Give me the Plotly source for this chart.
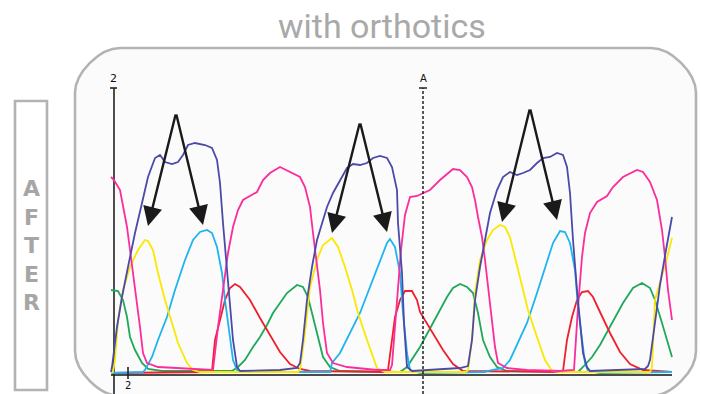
import plotly.graph_objects as go

# ---- data (scan position vs. signal intensity) ----
green_x = [0,7,12,16,19,24,31,37,51,121,127,134,142,149,156,162,169,176,186,192,197,202,207,212,219,229,289,296,309,319,329,336,342,349,356,362,367,372,379,386,396,467,472,481,489,499,506,512,522,531,539,544,551,556,561]
green_y = [85,84,75,58,38,25,12,6,4,4,8,15,28,38,50,62,72,82,90,88,78,58,35,18,8,4,3,8,28,47,65,78,87,91,88,82,62,35,18,8,4,3,8,18,30,48,60,72,87,92,87,75,52,35,18]

red_x = [0,99,101,104,109,114,119,124,129,134,139,149,159,169,179,189,199,275,277,281,284,289,294,301,306,309,314,322,332,342,352,450,452,456,461,466,471,477,482,489,499,509,519,532,561]
red_y = [2,3,4,35,55,75,87,91,88,82,75,57,40,23,11,6,4,3,5,35,58,75,84,84,75,63,55,42,25,11,4,3,4,35,58,75,83,84,78,63,42,23,11,5,3]

cyan_x = [0,32,34,41,47,56,64,74,82,89,96,101,106,111,114,118,122,126,134,219,221,229,239,249,259,269,276,279,284,289,292,296,299,309,374,376,392,399,407,416,426,434,442,449,454,459,464,467,471,474,477,489,561]
cyan_y = [2,3,5,18,35,58,85,115,135,143,145,142,128,102,75,42,15,5,3,3,12,22,42,62,88,115,132,136,128,102,62,22,5,2,3,4,7,15,32,52,82,108,132,144,143,132,105,68,35,12,4,2,3]

yellow_x = [0,2,4,7,12,19,27,34,37,42,47,54,61,67,76,82,89,187,189,194,199,206,212,221,227,234,241,247,256,266,274,355,357,361,364,369,376,382,389,394,399,404,411,417,426,434,441,449,539,541,544,551,556,561]
yellow_y = [2,3,15,55,85,108,125,135,134,125,102,75,52,32,12,5,3,3,5,42,88,115,130,137,128,108,85,62,35,7,3,3,5,35,82,115,135,145,150,148,138,118,92,65,38,15,4,3,3,8,75,98,117,137]

pink_x = [0,3,9,12,16,19,22,26,29,32,36,47,67,94,102,107,112,117,122,127,132,139,146,152,159,169,179,189,194,199,202,206,209,212,216,222,236,266,279,281,286,290,294,299,306,312,319,329,342,349,356,361,364,367,371,374,377,381,384,387,396,416,449,463,467,471,474,479,486,496,502,512,526,532,539,546,551,554,557,561]
pink_y = [198,195,185,168,148,125,102,75,48,22,12,8,7,5,5,48,85,122,148,165,175,179,183,195,202,208,203,198,188,168,142,108,85,52,22,12,8,5,5,10,75,125,160,178,179,182,185,195,206,205,198,188,175,158,138,115,88,58,28,12,7,5,4,5,68,118,142,162,173,179,188,198,205,203,193,175,145,118,85,55]

navy_x = [0,1,6,11,17,24,31,37,44,49,54,61,67,72,77,84,94,101,106,109,112,116,119,122,126,129,169,186,189,192,196,201,206,211,216,222,229,236,242,249,256,262,269,276,281,286,287,291,293,296,301,349,357,361,364,369,374,379,386,392,399,406,412,419,426,432,439,446,452,456,459,462,466,469,472,476,479,534,537,539,544,549,555,561]
navy_y = [3,8,48,78,108,142,172,198,217,220,213,211,213,220,230,232,230,227,215,192,152,108,75,35,8,4,5,7,12,35,75,108,135,152,168,182,195,207,211,210,212,217,219,217,208,185,152,102,52,8,4,7,9,35,75,108,135,162,185,198,203,200,202,205,212,217,218,222,220,208,182,135,85,52,22,8,4,6,9,15,55,90,125,158]

series = [
    ("G", green_x, green_y, "#1fa85a"),
    ("T", red_x, red_y, "#ef1f2d"),
    ("C", cyan_x, cyan_y, "#1db4ef"),
    ("A?", yellow_x, yellow_y, "#fbe800"),
    ("P", pink_x, pink_y, "#fb2c9c"),
    ("N", navy_x, navy_y, "#4a4aaa"),
]

# arrows: (apex_x, apex_y, tip_x, tip_y)
arrow_apex_x = [65, 65, 249, 249, 419, 419]
arrow_apex_y = [262, 262, 253, 253, 267, 267]
arrow_tip_x = [37, 92, 221, 276, 391, 446]
arrow_tip_y = [149, 150, 142, 143, 153, 155]

title_text = "with orthotics"
side_letters = ["A", "F", "T", "E", "R"]
marker_pos = 312          # dashed cursor position
y_axis_pos = 3
x_tick_pos = 17
y_top = 287

fig = go.Figure()

for name, xs, ys, col in series:
    fig.add_trace(go.Scatter(x=xs, y=ys, mode="lines", name=name,
                             line=dict(color=col, width=1.8), hoverinfo="skip"))

shapes = []
# rounded frame
L, R, T, B, r = -36, 585, 327, -21, 45
k = 0.45 * r
path = (f"M {L},{B+r} L {L},{T-r} C {L},{T-r+k} {L+r-k},{T} {L+r},{T} "
        f"L {R-r},{T} C {R-r+k},{T} {R},{T-r+k} {R},{T-r} "
        f"L {R},{B+r} C {R},{B+r-k} {R-r+k},{B} {R-r},{B} "
        f"L {L+r},{B} C {L+r-k},{B} {L},{B+r-k} {L},{B+r} Z")
shapes.append(dict(type="path", path=path, xref="x", yref="y", layer="below",
                   line=dict(color="#b3b3b3", width=2.6), fillcolor="#fbfbfb"))
# side box
shapes.append(dict(type="rect", x0=-96, x1=-64, y0=-15, y1=274, xref="x", yref="y",
                   layer="below", line=dict(color="#b3b3b3", width=2.6), fillcolor="white"))
# axes
shapes.append(dict(type="line", x0=0, x1=561, y0=0, y1=0, xref="x", yref="y",
                   layer="below", line=dict(color="#111111", width=1.7)))
shapes.append(dict(type="line", x0=y_axis_pos, x1=y_axis_pos, y0=-19, y1=y_top, xref="x", yref="y",
                   layer="below", line=dict(color="#222222", width=1.6)))
shapes.append(dict(type="line", x0=-1, x1=6, y0=y_top, y1=y_top, xref="x", yref="y",
                   layer="below", line=dict(color="#222222", width=1.6)))
shapes.append(dict(type="line", x0=x_tick_pos, x1=x_tick_pos, y0=-4, y1=8, xref="x", yref="y",
                   layer="above", line=dict(color="#222222", width=1.6)))
# cursor
shapes.append(dict(type="line", x0=marker_pos, x1=marker_pos, y0=-19, y1=y_top, xref="x", yref="y",
                   layer="above", line=dict(color="#222222", width=1.5, dash="3px,2px")))
shapes.append(dict(type="line", x0=marker_pos-4, x1=marker_pos+4, y0=y_top, y1=y_top, xref="x", yref="y",
                   layer="above", line=dict(color="#222222", width=1.5)))

annotations = []
for ax_, ay_, tx, ty in zip(arrow_apex_x, arrow_apex_y, arrow_tip_x, arrow_tip_y):
    annotations.append(dict(x=tx, y=ty, ax=ax_, ay=ay_, xref="x", yref="y", axref="x", ayref="y",
                            text="", showarrow=True, arrowhead=2, arrowsize=1.6,
                            arrowwidth=2.4, arrowcolor="#1a1a1a", standoff=0))
annotations.append(dict(x=271, y=349, xref="x", yref="y", text=title_text, showarrow=False,
                        font=dict(family="Roboto", size=34, color="#a9a9a9")))
annotations.append(dict(x=-80, y=130, xref="x", yref="y",
                        text="<br>".join(f"<b>{c}</b>" for c in side_letters), showarrow=False,
                        font=dict(family="DejaVu Sans", size=22, color="#a6a6a6")))
annotations.append(dict(x=y_axis_pos - 1, y=y_top + 10, xref="x", yref="y", text="2", showarrow=False,
                        font=dict(family="DejaVu Sans", size=11, color="#111111")))
annotations.append(dict(x=marker_pos, y=y_top + 10, xref="x", yref="y", text="A", showarrow=False,
                        font=dict(family="DejaVu Sans", size=10, color="#111111")))
annotations.append(dict(x=x_tick_pos, y=-18, xref="x", yref="y", yanchor="bottom", text="2",
                        showarrow=False, font=dict(family="DejaVu Sans", size=10, color="#111111")))

fig.update_layout(
    width=701, height=394, margin=dict(l=0, r=0, t=0, b=0),
    paper_bgcolor="white", plot_bgcolor="white", showlegend=False,
    xaxis=dict(range=[-111, 590], visible=False, fixedrange=True),
    yaxis=dict(range=[-19, 375], visible=False, fixedrange=True),
    shapes=shapes, annotations=annotations, hovermode=False,
)

fig.write_html("out.html", config={"displayModeBar": False},
               post_script="document.body.style.margin='0';document.body.style.overflow='hidden';")
